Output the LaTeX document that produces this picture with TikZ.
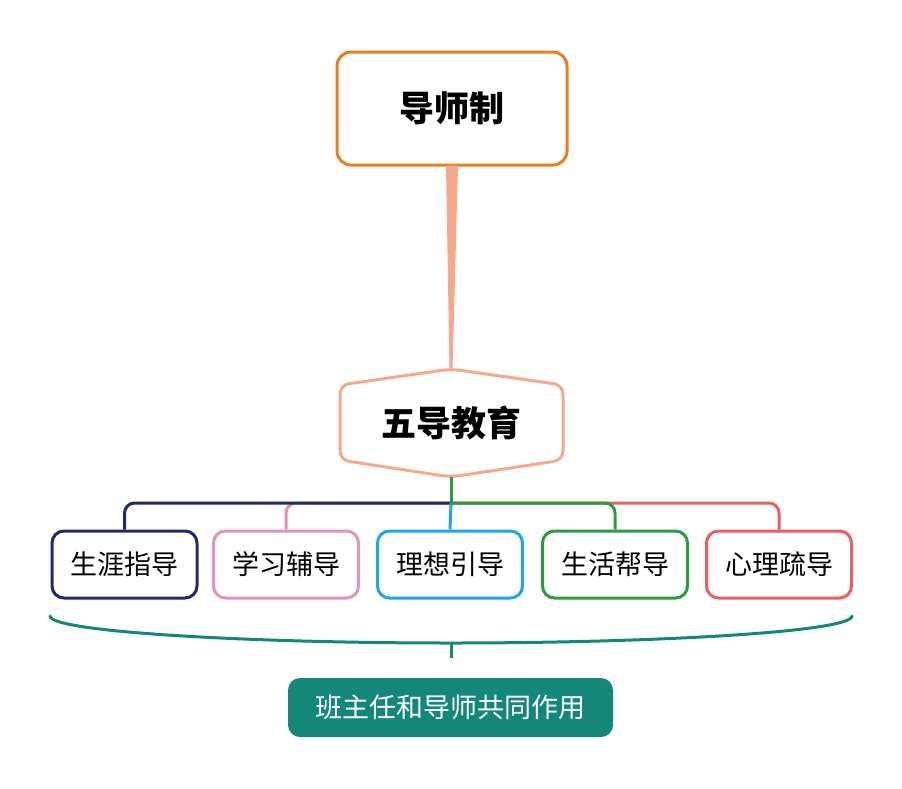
\documentclass[tikz,border=0pt]{standalone}
\usepackage{fontspec}
\setmainfont{Noto Sans CJK SC}
\usetikzlibrary{calc}
\definecolor{corange}{HTML}{EC7D1F}
\definecolor{csalmon}{HTML}{F5A98C}
\definecolor{cnavy}{HTML}{1F2A6E}
\definecolor{cpink}{HTML}{E391C0}
\definecolor{cblue}{HTML}{1EA6E8}
\definecolor{cgreen}{HTML}{2A9D3A}
\definecolor{cred}{HTML}{EE5E5E}
\definecolor{cteal}{HTML}{12877A}
\tikzset{
  leaf/.style={draw=#1, line width=3pt, rounded corners=12pt, minimum width=145pt, minimum height=67pt, inner sep=0pt, font=\fontsize{27}{30}\selectfont, text=black},
  branch/.style={draw=#1, line width=3pt, rounded corners=10pt},
}
\begin{document}
\begin{tikzpicture}[x=1pt,y=-1pt]
\useasboundingbox[fill=white] (0,0) rectangle (902,788);
% top box
\node[draw=corange, line width=3pt, rounded corners=14pt, minimum width=230pt, minimum height=113pt, inner sep=0pt, font=\fontsize{35}{38}\selectfont\bfseries] (top) at (452,108.5) {导师制};
% hexagon
\coordinate (hexT) at (451,369);
\coordinate (hexB) at (451,477);
\draw[csalmon, line width=3pt, rounded corners=9pt, fill=white] (hexT) -- (563,385) -- (563,460) -- (hexB) -- (340,460) -- (340,385) -- cycle;
\node[font=\fontsize{35}{38}\selectfont\bfseries, inner sep=0pt] (hex) at (451,423) {五导教育};
% tapered connector
\fill[csalmon] ($(top.south)+(-6,-1)$) -- ($(top.south)+(6,-1)$) -- ($(hexT)+(1.5,1)$) -- ($(hexT)+(-1.5,1)$) -- cycle;
% leaves
\node[leaf=cnavy] (l1) at (124.5,564.5) {生涯指导};
\node[leaf=cpink] (l2) at (286,564.5) {学习辅导};
\node[leaf=cblue] (l3) at (450,564.5) {理想引导};
\node[leaf=cgreen] (l4) at (615,564.5) {生活帮导};
\node[leaf=cred] (l5) at (779,564.5) {心理疏导};
\coordinate (J) at (451,503);
% branches
\draw[branch=cpink] (J) -- (l2.north |- J) -- (l2.north);
\draw[branch=cnavy] (J) -- (l1.north |- J) -- (l1.north);
\draw[branch=cred] (J) -- (l5.north |- J) -- (l5.north);
\draw[branch=cgreen] (J) -- (l4.north |- J) -- (l4.north);
\draw[cblue, line width=3pt] (J) -- (l3.north);
\draw[cgreen, line width=3pt] (hexB) -- ($(J)+(0,1.5)$);
% brace
\coordinate (bL) at (50,616);
\coordinate (bR) at (852,616);
\coordinate (bM) at (451,643);
\coordinate (bT) at (451,658);
\draw[cteal, line width=3pt, line cap=round] (bL) .. controls (50,632) and (250,643) .. (bM) .. controls (652,643) and (852,632) .. (bR);
\draw[cteal, line width=3pt] (bM) -- (bT);
% bottom box
\node[fill=cteal, rounded corners=12pt, minimum width=325pt, minimum height=59pt, inner sep=0pt, text=white, font=\fontsize{27}{30}\selectfont] (bot) at (450.5,707.5) {班主任和导师共同作用};
\end{tikzpicture}
\end{document}
